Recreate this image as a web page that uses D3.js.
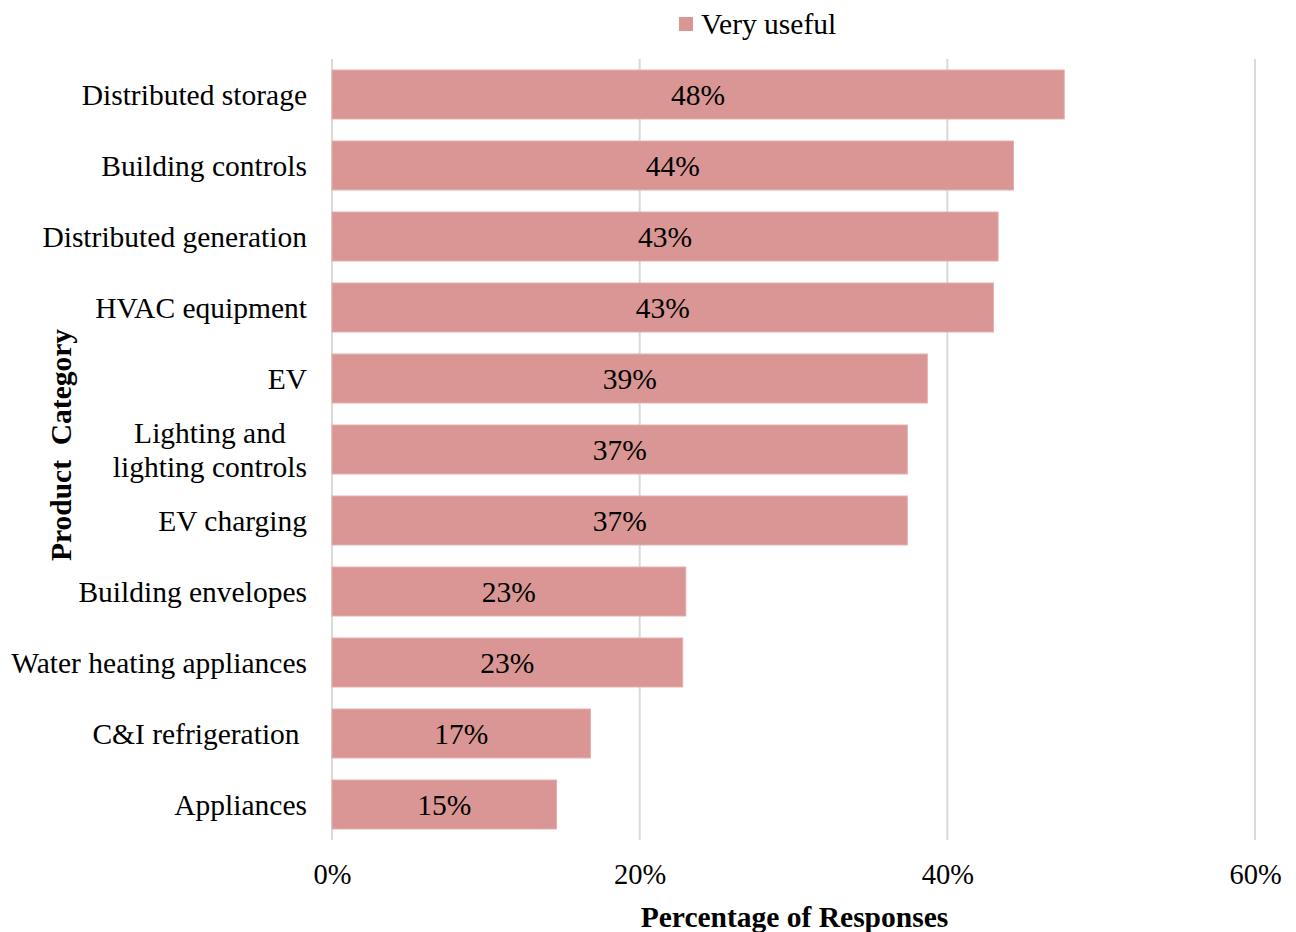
<!DOCTYPE html>
<html>
<head>
<meta charset="utf-8">
<script src="https://cdn.jsdelivr.net/npm/d3@7/dist/d3.min.js"></script>
<style>
  html, body { margin: 0; padding: 0; background: #fff; }
  svg { display: block; }
  svg text { font-family: "Liberation Serif", "Times New Roman", serif; fill: #000; }
</style>
</head>
<body>
<svg id="chart" width="1296" height="932"></svg>
<script>
// Product categories (top to bottom) and share of "Very useful" responses
const categories = [
  "Distributed storage",
  "Building controls",
  "Distributed generation",
  "HVAC equipment",
  "EV",
  "Lighting and\nlighting controls",
  "EV charging",
  "Building envelopes",
  "Water heating appliances",
  "C&I refrigeration ",
  "Appliances"
];
const veryUseful = [0.476, 0.443, 0.433, 0.430, 0.387, 0.374, 0.374, 0.230, 0.228, 0.168, 0.146];
const xTicks = [0, 0.2, 0.4, 0.6];
const seriesName = "Very useful";
const xTitle = "Percentage of Responses";
const yTitle = "Product  Category";

const data = categories.map((c, i) => ({ category: c, value: veryUseful[i] }));

const W = 1296, H = 932;
const margin = { top: 59, right: 41, bottom: 92, left: 332 };
const innerW = W - margin.left - margin.right;
const innerH = H - margin.top - margin.bottom;
const FS = 29.5;
const SERIF = "Liberation Serif, Times New Roman, serif";

const svg = d3.select("#chart");
const g = svg.append("g").attr("transform", `translate(${margin.left},${margin.top})`);

const x = d3.scaleLinear().domain([0, 0.6]).range([0, innerW]);
const y = d3.scaleBand().domain(categories).range([0, innerH]).paddingInner(0.31).paddingOuter(0.155);

const fmt = d3.format(".0%");

// vertical gridlines
g.append("g")
  .selectAll("line")
  .data(xTicks)
  .join("line")
  .attr("x1", d => x(d)).attr("x2", d => x(d))
  .attr("y1", 0).attr("y2", innerH)
  .attr("stroke", "#d9d9d9")
  .attr("stroke-width", 2);

// x axis tick labels
const xAxis = d3.axisBottom(x).tickValues(xTicks).tickFormat(fmt).tickSize(0).tickPadding(24);
const xg = g.append("g").attr("transform", `translate(0,${innerH})`).call(xAxis)
  .attr("font-family", SERIF).attr("font-size", 28.5);
xg.select(".domain").remove();
xg.selectAll("text").attr("fill", "#000");

// bars
g.append("g")
  .selectAll("rect")
  .data(data)
  .join("rect")
  .attr("x", x(0))
  .attr("y", d => y(d.category))
  .attr("width", d => x(d.value) - x(0))
  .attr("height", y.bandwidth())
  .attr("fill", "#d99694")
  .attr("stroke", "#e4b0ae")
  .attr("stroke-width", 1);

// value labels in the middle of each bar
g.append("g")
  .attr("font-family", SERIF)
  .selectAll("text")
  .data(data)
  .join("text")
  .attr("x", d => x(d.value) / 2)
  .attr("y", d => y(d.category) + y.bandwidth() / 2)
  .attr("dy", "0.35em")
  .attr("text-anchor", "middle")
  .style("font-size", FS + "px")
  .text(d => fmt(d.value));

// category labels, right aligned; multi-line labels are centred within their block
const labelRight = -25;
const lh = 34;
const lg = g.append("g");
data.forEach(d => {
  const lines = d.category.split("\n");
  const y0 = -(lines.length - 1) * lh / 2;
  const t = lg.append("text")
    .attr("y", y(d.category) + y.bandwidth() / 2 + y0)
    .attr("dy", "0.35em")
    .style("font-size", FS + "px")
    .style("white-space", "pre");
  const spans = lines.map((ln, k) => t.append("tspan")
    .attr("dy", k === 0 ? null : lh + "px")
    .text(ln));
  if (lines.length === 1) {
    t.attr("text-anchor", "end");
    spans[0].attr("x", labelRight);
  } else {
    const widths = spans.map(s => s.node().getComputedTextLength());
    const maxW = Math.max(...widths);
    t.attr("text-anchor", "middle");
    spans.forEach(s => s.attr("x", labelRight - maxW / 2));
  }
});

// axis titles
svg.append("text")
  .attr("x", margin.left + x(0.3) + 1)
  .attr("y", 917)
  .attr("dy", "0.35em")
  .attr("text-anchor", "middle")
  .style("font-size", FS + "px")
  .style("font-weight", "bold")
  .text(xTitle);

svg.append("text")
  .attr("transform", `translate(61,445) rotate(-90)`)
  .attr("dy", "0.35em")
  .attr("text-anchor", "middle")
  .style("font-size", FS + "px")
  .style("font-weight", "bold")
  .style("white-space", "pre")
  .text(yTitle);

// legend
const leg = svg.append("g").attr("transform", "translate(679,17)");
leg.append("rect").attr("width", 14).attr("height", 14).attr("fill", "#d99694");
leg.append("text").attr("x", 22).attr("y", 7).attr("dy", "0.35em").style("font-size", FS + "px").text(seriesName);
</script>
</body>
</html>
